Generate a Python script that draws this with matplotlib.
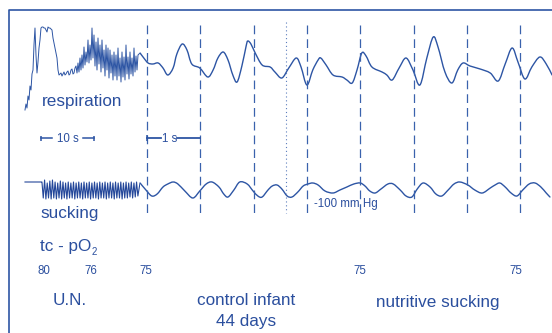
import numpy as np
import matplotlib
matplotlib.use("Agg")
import matplotlib.pyplot as plt
from matplotlib.path import Path
from matplotlib.patches import PathPatch

plt.rcParams['font.family'] = ['Liberation Sans', 'DejaVu Sans']

INK = '#2d55a4'
TEXT = '#2b4f9e'

# ---- slow paper speed section (10 s per 53 px) ----
slow_t = np.linspace(-21.7, 0.0, 116)
slow_resp = [-45, -39, -43, -31, -35, -21, -25, -9, -5, 20,
             37, 10, -8, 3, 17, 25, 37, 38, 38, 37,
             37, 35, 33, 38, 37, 37, 36, 35, 27, 22,
             17, 12, 7, -5, -10, -9, -8, -11, -9, -7,
             -10, -9, -7, -6, -10, -9, -5, -4, -9, -8,
             -3, -1, -8, 2, -7, 7, -5, 10, -3, 18,
             0, 13, 3, 25, 2, 20, 5, 37, 7, 30,
             -1, 23, -5, 27, 1, 20, -7, 25, -3, 15,
             -11, 20, -5, 17, -13, 15, -8, 10, -15, 13,
             -11, 10, -15, 17, -11, 7, -17, 13, -12, 8,
             -15, 20, -9, 8, -14, 13, -9, 7, -11, 17,
             -7, 9, -5, 10, 11, 12]

# sucking: quiet line, then a burst of rapid sucks
suck_flat_t = [-21.7, -18.6]
suck_flat = [8, 8]
burst_t = np.linspace(-18.5, -0.4, 74)
burst_tops = [8, 10, 7, 9, 10, 8, 7, 9, 8, 7, 8, 7, 8, 7, 8, 7, 8, 7, 8,
              7, 8, 7, 8, 7, 8, 7, 8, 7, 8, 7, 8, 7, 8, 7, 8, 7, 8]
burst_bottoms = [-8, -9, -8, -9, -8, -9, -8, -9, -8, -9, -8, -8, -9, -8,
                 -8, -9, -8, -8, -9, -8, -8, -9, -8, -8, -9, -8, -8, -9,
                 -8, -8, -9, -8, -8, -7, -8, -7, -6]
suck_end_t = [0.0]
suck_end = [7]

# ---- fast paper speed section (1 s per 53.3 px) ----
resp_t = [-0.13, -0.06, 0.02, 0.11, 0.21, 0.30, 0.39, 0.49, 0.56, 0.66,
          0.75, 0.84, 0.99, 1.14, 1.24, 1.33, 1.43, 1.52, 1.61, 1.69,
          1.78, 1.86, 1.89, 1.95, 2.03, 2.16, 2.31, 2.40, 2.53, 2.66,
          2.80, 2.89, 3.00, 3.11, 3.21, 3.26, 3.36, 3.49, 3.66, 3.75,
          3.85, 3.94, 4.03, 4.11, 4.22, 4.41, 4.50, 4.60, 4.73, 4.86,
          4.99, 5.12, 5.25, 5.37, 5.46, 5.59, 5.72, 5.83, 5.93, 6.06,
          6.25, 6.44, 6.59, 6.72, 6.85, 6.96, 7.09, 7.22, 7.37, 7.49,
          7.60]
resp = [12, 7, 2, 1, 2, -3, -10, -3, 11, 21,
        15, 1, -3, -12, -5, 7, 13, 5, -10, -17,
        -1, 19, 24, 21, 12, 0, -2, -7, -13, -3,
        7, -2, -20, -5, 5, 7, 0, -10, -12, -15,
        -18, -5, 12, 9, -2, -7, -10, -15, -3, 7,
        -5, -20, 7, 28, 18, -7, -18, -5, 2, -1,
        -4, -8, -16, 1, 17, 3, -14, -2, 8, 1,
        -10]

suck_t = [-0.13, -0.02, 0.09, 0.19, 0.30, 0.39, 0.49, 0.58, 0.71, 0.86,
          0.99, 1.11, 1.22, 1.35, 1.44, 1.52, 1.63, 1.74, 1.88, 1.99,
          2.08, 2.16, 2.27, 2.35, 2.44, 2.53, 2.63, 2.72, 2.83, 2.93,
          3.02, 3.11, 3.21, 3.34, 3.49, 3.62, 3.75, 3.88, 4.00, 4.09,
          4.18, 4.28, 4.39, 4.52, 4.62, 4.75, 4.86, 4.97, 5.07, 5.18,
          5.31, 5.42, 5.53, 5.65, 5.76, 5.87, 6.02, 6.15, 6.29, 6.44,
          6.53, 6.62, 6.72, 6.83, 6.94, 7.05, 7.17, 7.28, 7.39, 7.49,
          7.56]
suck = [7, 0, -6, -4, 3, 6, 8, 6, -1, -8,
        -1, 6, 8, 3, -4, -7, 0, 8, 6, -1,
        -6, -7, 0, 4, 5, 1, -6, -7, -2, 4,
        6, 7, 5, -1, -3, 0, 3, 6, 7, 4,
        -1, -3, 1, 6, 6, 0, -6, -7, 1, 7,
        3, -4, -6, 0, 6, 8, 5, 0, -3, 2,
        5, 7, 3, -3, -6, 0, 6, 7, 3, -3,
        -7]

second_marks = [0, 1, 2, 3, 4, 5, 6, 7]
dotted_mark = 2.6
po2_slow = ['80', '76']
po2_slow_t = [-18.1, -9.2]
po2_fast = ['75', '75', '75']
po2_fast_t = [-0.02, 4.0, 6.92]

# ---- layout (pixels) ----
W, H = 552, 333
RESP_BASE, SUCK_BASE = 65, 190
SLOW_X0, SPLIT_X, T0_X = 20, 140, 147
SLOW_PX_PER_S, FAST_PX_PER_S = 5.3, 53.3

fig = plt.figure(figsize=(W / 100, H / 100), dpi=100)


def px_axes(x0, x1, xlim):
    ax = fig.add_axes([x0 / W, 0, (x1 - x0) / W, 1])
    ax.set_xlim(*xlim)
    ax.set_ylim(H, 0)
    ax.axis('off')
    return ax


def smooth_trace(ax, t, amp, base, lw=1.0):
    # Catmull-Rom through the read points, drawn as cubic Beziers
    pts = np.column_stack([np.asarray(t, float), base - np.asarray(amp, float)])
    ext = np.vstack([pts[0], pts, pts[-1]])
    verts, codes = [pts[0]], [Path.MOVETO]
    for i in range(len(pts) - 1):
        p0, p1, p2, p3 = ext[i], ext[i + 1], ext[i + 2], ext[i + 3]
        verts += [p1 + (p2 - p0) / 6, p2 - (p3 - p1) / 6, p2]
        codes += [Path.CURVE4] * 3
    ax.add_patch(PathPatch(Path(verts, codes), fill=False, edgecolor=INK,
                           lw=lw, capstyle='round', joinstyle='round'))


frame = fig.add_axes([0, 0, 1, 1])
frame.set_xlim(0, W)
frame.set_ylim(H, 0)
frame.axis('off')
frame.plot([9, 9, W], [H, 10, 10], color=INK, lw=1.2)

ax_s = px_axes(SLOW_X0, SPLIT_X, (-(SPLIT_X - SLOW_X0) / SLOW_PX_PER_S, 0))
ax_f = px_axes(SPLIT_X, W, (-(T0_X - SPLIT_X) / FAST_PX_PER_S,
                            (W - T0_X) / FAST_PX_PER_S))

# slow section traces
ax_s.plot(slow_t, RESP_BASE - np.array(slow_resp), color=INK, lw=0.7)
bt = np.asarray(burst_t)
bv = np.ravel(np.column_stack([burst_tops, burst_bottoms]))
st = np.concatenate([suck_flat_t, bt, suck_end_t])
sv = np.concatenate([suck_flat, bv, suck_end])
ax_s.plot(st, SUCK_BASE - sv, color='#24479a', lw=0.8)

# fast section traces
smooth_trace(ax_f, resp_t, resp, RESP_BASE)
smooth_trace(ax_f, suck_t, suck, SUCK_BASE)

# one-second marks
ax_f.vlines(second_marks, 25, 215, color='#3a62ad', lw=0.9,
            linestyles=[(0, (7, 4))])
ax_f.vlines([dotted_mark], 22, 213, color='#5a7cbc', lw=0.8,
            linestyles=[(0, (1, 2.5))])

# time scale bars
BAR_Y = 138
ax_s.plot([-18.68, -16.6], [BAR_Y, BAR_Y], color=INK, lw=1.1)
ax_s.plot([-10.8, -8.68], [BAR_Y, BAR_Y], color=INK, lw=1.1)
ax_s.vlines([-18.68, -8.68], BAR_Y - 2.5, BAR_Y + 2.5, color=INK, lw=1.1)
ax_s.text(-13.7, BAR_Y + 4, '10 s', color=TEXT, fontsize=8.3,
          ha='center', va='baseline')
ax_f.plot([0, 0.27], [BAR_Y, BAR_Y], color=INK, lw=1.3)
ax_f.plot([0.57, 1.0], [BAR_Y, BAR_Y], color=INK, lw=1.3)
ax_f.vlines([0], BAR_Y - 3, BAR_Y + 3, color=INK, lw=1.1)
ax_f.text(0.42, BAR_Y + 4, '1 s', color=TEXT, fontsize=8.3,
          ha='center', va='baseline')

# tc-pO2 readings
for lab, t in zip(po2_slow, po2_slow_t):
    ax_s.text(t, 274, lab, color=TEXT, fontsize=8.3, ha='center',
              va='baseline', clip_on=False)
for lab, t in zip(po2_fast, po2_fast_t):
    ax_f.text(t, 274, lab, color=TEXT, fontsize=8.3, ha='center',
              va='baseline', clip_on=False)

ax_f.text(3.13, 207, '-100 mm Hg', color=TEXT, fontsize=8.3,
          ha='left', va='baseline')

big = dict(color=TEXT, fontsize=12.3, va='baseline')
frame.text(42, 106, 'respiration', ha='left', **big)
frame.text(40, 218, 'sucking', ha='left', **big)
frame.text(40, 251, 'tc - pO', ha='left', **big)
frame.text(92, 255, '2', ha='left', color=TEXT, fontsize=7, va='baseline')
frame.text(53, 305, 'U.N.', ha='left', **big)
frame.text(246, 305, 'control infant', ha='center', **big)
frame.text(246, 326, '44 days', ha='center', **big)
frame.text(438, 307, 'nutritive sucking', ha='center', **big)

fig.savefig('out.png', dpi=100)
